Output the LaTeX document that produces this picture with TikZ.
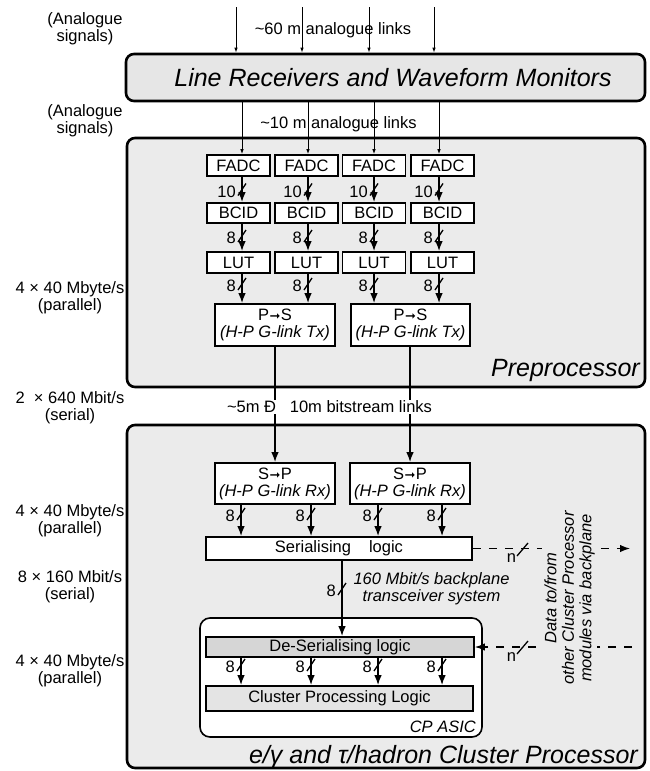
\documentclass[tikz,border=0pt]{standalone}
\usepackage{fontspec}
\setmainfont{Liberation Sans}
\newfontfamily\djv{DejaVu Sans}
\usetikzlibrary{arrows.meta}
\definecolor{bggray}{HTML}{EBEBEB}
\definecolor{lrgray}{HTML}{E6E6E6}
\definecolor{dsgray}{HTML}{D6D6D6}
\definecolor{cpgray}{HTML}{E4E4E4}
\newcommand\busmk[4]{%
  \draw[line width=1.3pt] (#2-4,#3+6) -- (#2+4,#3-6);
  \node[anchor=east] (#1) at (#2-6,#3+2) {#4};
}
\newcommand\rarr{{\djv\fontsize{13}{13}\selectfont\kern0.5pt➞\kern0.5pt}}
\begin{document}
\begin{tikzpicture}[x=1pt,y=-1pt,
  every node/.style={font=\fontsize{16.5}{17}\selectfont, inner sep=0pt},
  bigbox/.style={draw, line width=2.6pt, rounded corners=8pt, fill=bggray},
  sbox/.style={draw, line width=1.6pt, fill=white, align=center},
  arr/.style={line width=1.5pt, -{Latex[length=10pt,width=7.5pt]}},
  thinarr/.style={line width=0.9pt, -{Latex[length=5pt,width=3.5pt]}},
  dsh/.style={line width=1.4pt, dash pattern=on 8pt off 8pt},
  bigtxt/.style={font=\fontsize{25}{30}\selectfont\itshape},
  side/.style={align=center},
]
\useasboundingbox (0,0) rectangle (650,771);

% containers
\node[bigbox, fill=lrgray, minimum width=519pt, minimum height=47pt] (lrwm) at (385.5,77.5) {};
\node[bigtxt] (lrwmtxt) at (393,78) {Line Receivers and Waveform Monitors};
\node[bigbox, minimum width=518pt, minimum height=249pt] (pre) at (386,262.5) {};
\node[bigtxt, anchor=east] (pretxt) at (640,370) {Preprocessor};
\node[bigbox, minimum width=518pt, minimum height=343pt] (clu) at (386,596.5) {};
\node[bigtxt, anchor=east] (clutxt) at (638,757) {e/γ and τ/hadron Cluster Processor};
\node[draw, line width=1.6pt, fill=white, rounded corners=10pt, minimum width=282pt, minimum height=119pt] (asic) at (341,677.5) {};
\node[anchor=east, font=\fontsize{16.5}{17}\selectfont\itshape] (asictxt) at (476,727) {CP ASIC};

% side labels
\node[side] (an1) at (85,29) {(Analogue\\signals)};
\node[side] (an2) at (85,121) {(Analogue\\signals)};
\node[side] (r1) at (70,297.5) {4 × 40 Mbyte/s\\(parallel)};
\node[side] (r2) at (70,408) {2\ \ × 640 Mbit/s\\(serial)};
\node[side] (r3) at (70,521) {4 × 40 Mbyte/s\\(parallel)};
\node[side] (r4) at (70,586.5) {8 × 160 Mbit/s\\(serial)};
\node[side] (r5) at (70,671) {4 × 40 Mbyte/s\\(parallel)};

% column coordinates
\coordinate (t1) at (236,7);
\coordinate (t2) at (302,7);
\coordinate (t3) at (369,7);
\coordinate (t4) at (434,7);
\coordinate (c1) at (242,0);
\coordinate (c2) at (308,0);
\coordinate (c3) at (374,0);
\coordinate (c4) at (439,0);
\coordinate (d1) at (241,0);
\coordinate (d2) at (311,0);
\coordinate (d3) at (378,0);
\coordinate (d4) at (442,0);
\coordinate (vx) at (342,0);
\coordinate (dend) at (630,0);
\coordinate (dbeg) at (632,0);

% preprocessor boxes
\foreach \i/\x in {1/238.5,2/306.5,3/374,4/442.5}{
  \node[sbox, minimum width=63pt, minimum height=21pt] (fadc\i) at (\x,165.5) {FADC};
  \node[sbox, minimum width=63pt, minimum height=20pt] (bcid\i) at (\x,213) {BCID};
  \node[sbox, minimum width=63pt, minimum height=21pt] (lut\i) at (\x,262.5) {LUT};
}
\node[sbox, minimum width=120pt, minimum height=42pt] (ps1) at (275,325) {P\rarr S\\\textit{(H-P G-link Tx)}};
\node[sbox, minimum width=119pt, minimum height=42pt] (ps2) at (410.5,325) {P\rarr S\\\textit{(H-P G-link Tx)}};

% cluster processor boxes
\node[sbox, minimum width=120pt, minimum height=41pt] (sp1) at (275,483.5) {S\rarr P\\\textit{(H-P G-link Rx)}};
\node[sbox, minimum width=120pt, minimum height=41pt] (sp2) at (410,483.5) {S\rarr P\\\textit{(H-P G-link Rx)}};
\node[sbox, minimum width=266pt, minimum height=23pt] (ser) at (339,548.5) {Serialising\hspace{18pt}logic};
\node[sbox, fill=dsgray, minimum width=268pt, minimum height=20pt] (deser) at (340,647) {De-Serialising logic};
\node[sbox, fill=cpgray, minimum width=267pt, minimum height=25pt] (cpl) at (339.5,698.5) {Cluster Processing Logic};

% analogue links
\foreach \t in {t1,t2,t3,t4}{ \draw[thinarr] (\t) -- (\t |- lrwm.north); }
\node[anchor=base] (l60) at (333,34) {\textasciitilde 60 m analogue links};
\foreach \i in {1,2,3,4}{ \draw[thinarr] (lrwm.south -| c\i) -- (fadc\i.north -| c\i); }
\node[anchor=base] (l10) at (338.5,128) {\textasciitilde 10 m analogue links};

% preprocessor arrows
\foreach \i in {1,2,3,4}{
  \draw[arr] (fadc\i.south -| c\i) -- (bcid\i.north -| c\i);
  \draw[arr] (bcid\i.south -| c\i) -- (lut\i.north -| c\i);
}
\draw[arr] (lut1.south -| c1) -- (ps1.north -| c1);
\draw[arr] (lut2.south -| c2) -- (ps1.north -| c2);
\draw[arr] (lut3.south -| c3) -- (ps2.north -| c3);
\draw[arr] (lut4.south -| c4) -- (ps2.north -| c4);
\busmk{b11}{242}{189.5}{10}
\busmk{b12}{308}{189.5}{10}
\busmk{b13}{374}{189.5}{10}
\busmk{b14}{439}{189.5}{10}
\busmk{b21}{242}{236}{8}
\busmk{b22}{308}{236}{8}
\busmk{b23}{374}{236}{8}
\busmk{b24}{439}{236}{8}
\busmk{b31}{242}{284}{8}
\busmk{b32}{308}{284}{8}
\busmk{b33}{374}{284}{8}
\busmk{b34}{439}{284}{8}

% serial links
\draw[arr] (ps1.south) -- (sp1.north);
\draw[arr] (ps2.south -| sp2) -- (sp2.north);
\node[fill=white, inner sep=1pt] (l5m) at (329.5,407) {\textasciitilde 5m Ð\ \ \ 10m bitstream links};

% cluster processor arrows
\draw[arr] (sp1.south -| d1) -- (ser.north -| d1);
\draw[arr] (sp1.south -| d2) -- (ser.north -| d2);
\draw[arr] (sp2.south -| d3) -- (ser.north -| d3);
\draw[arr] (sp2.south -| d4) -- (ser.north -| d4);
\busmk{b41}{241}{514}{8}
\busmk{b42}{311}{514}{8}
\busmk{b43}{378}{514}{8}
\busmk{b44}{442}{514}{8}
\draw[arr] (ser.south -| vx) -- (deser.north -| vx);
\busmk{b5}{342}{589}{8}
\node[font=\fontsize{16.5}{17}\selectfont\itshape, align=center] (bptxt) at (431.5,589) {160 Mbit/s backplane\\transceiver system};
\foreach \i in {1,2,3,4}{ \draw[arr] (deser.south -| d\i) -- (cpl.north -| d\i); }
\busmk{b61}{241}{665}{8}
\busmk{b62}{311}{665}{8}
\busmk{b63}{378}{665}{8}
\busmk{b64}{442}{665}{8}

% backplane data
\draw[dsh, -{Latex[length=10pt,width=7.5pt]}] (ser.east) -- (ser.east -| dend);
\draw[dsh, -{Latex[length=10pt,width=7.5pt]}] (deser.east -| dbeg) -- (deser.east);
\draw[line width=1.3pt] (517,556) -- (528,543);
\node (n1) at (511.5,558) {n};
\draw[line width=1.3pt] (517,654) -- (528,641);
\node (n2) at (511.5,657) {n};
\node[fill=bggray, inner sep=2pt, rotate=90, align=center, font=\fontsize{16.5}{17.5}\selectfont\itshape] (datatxt) at (569.5,598) {Data to/from\\other Cluster Processor\\modules via backplane};
\end{tikzpicture}
\end{document}
